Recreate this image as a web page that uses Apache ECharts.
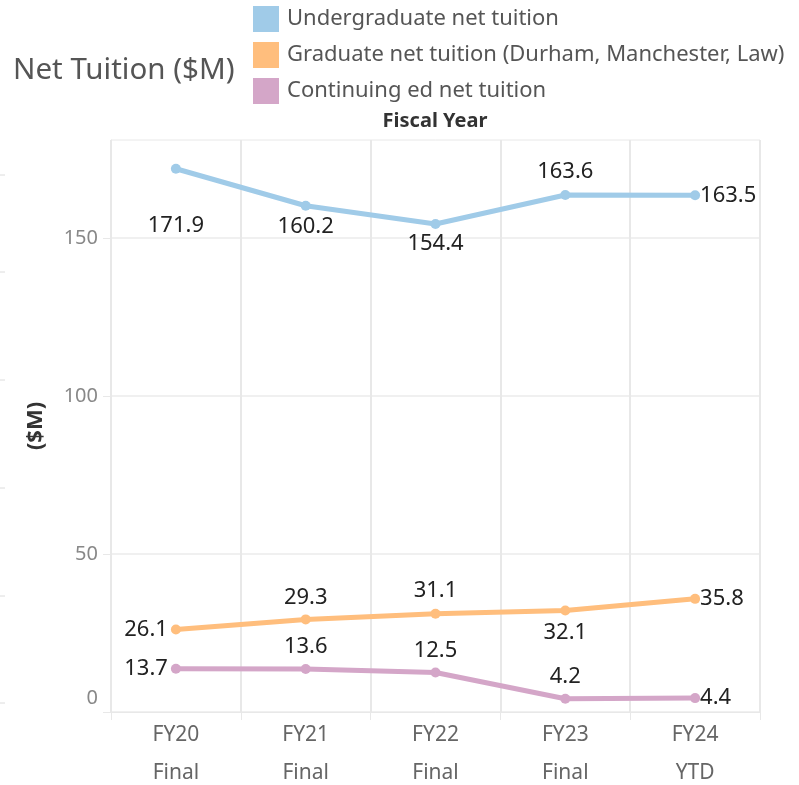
<!DOCTYPE html>
<html>
<head>
<meta charset="utf-8">
<script src="https://cdn.jsdelivr.net/npm/echarts@6/dist/echarts.min.js"></script>
<style>
html,body{margin:0;padding:0;background:#fff;}
#chart{width:799px;height:785px;}
</style>
</head>
<body>
<div id="chart"></div>
<script>
var categories = ['FY20\nFinal', 'FY21\nFinal', 'FY22\nFinal', 'FY23\nFinal', 'FY24\nYTD'];
var seriesNames = ['Undergraduate net tuition', 'Graduate net tuition (Durham, Manchester, Law)', 'Continuing ed net tuition'];
var undergrad = [171.9, 160.2, 154.4, 163.6, 163.5];
var graduate = [26.1, 29.3, 31.1, 32.1, 35.8];
var continuing = [13.7, 13.6, 12.5, 4.2, 4.4];
var yTicks = [0, 50, 100, 150];

var FONT = '"Noto Sans", sans-serif';
var colors = ['#a0cbe8', '#ffbe7d', '#d4a6c8'];

// label placements (style only)
function lab(kind, dy) {
  if (kind === 'right') return {position: 'right', distance: 0};
  if (kind === 'left') return {position: 'left', distance: 3};
  return {position: 'inside', offset: [0, dy]};
}
var placements = [
  [lab('c', 57), lab('c', 21), lab('c', 20), lab('c', -23), lab('right')],
  [lab('left'), lab('c', -22), lab('c', -23), lab('c', 22), lab('right')],
  [lab('left'), lab('c', -22), lab('c', -22), lab('c', -22), lab('right')]
];
var seriesData = [undergrad, graduate, continuing];

var chart = echarts.init(document.getElementById('chart'));
var gridGrey = '#e8e8e8';

var series = seriesData.map(function (arr, si) {
  return {
    name: seriesNames[si],
    type: 'line',
    data: arr.map(function (v, i) {
      return {value: v, label: placements[si][i]};
    }),
    symbol: 'circle',
    symbolSize: 10,
    lineStyle: {width: 5, color: colors[si]},
    itemStyle: {color: colors[si]},
    label: {
      show: true,
      fontFamily: FONT,
      fontSize: 22,
      color: '#222',
      formatter: function (p) { return p.value.toFixed(1); }
    },
    emphasis: {disabled: true},
    animation: false,
    z: 3
  };
});

var leftMarks = [175, 272, 380, 488, 596, 703].map(function (y) {
  return {type: 'line', shape: {x1: 0, y1: y, x2: 5, y2: y}, style: {stroke: '#dcdcdc', lineWidth: 1}};
});

chart.setOption({
  animation: false,
  backgroundColor: '#fff',
  color: colors,
  title: [
    {text: 'Net Tuition ($M)', left: 13, top: 56, padding: 0,
     textStyle: {fontFamily: FONT, fontSize: 29.5, fontWeight: 'normal', color: '#555'}},
    {text: 'Fiscal Year', left: 435, top: 111, padding: 0, textAlign: 'center',
     textStyle: {fontFamily: FONT, fontSize: 20, fontWeight: 'bold', color: '#333'}}
  ],
  legend: {
    orient: 'vertical',
    left: 253,
    top: 6,
    padding: 0,
    itemWidth: 26,
    itemHeight: 26,
    itemGap: 10,
    icon: 'rect',
    selectedMode: false,
    textStyle: {fontFamily: FONT, fontSize: 22, color: '#555', padding: [0, 0, 0, 3]},
    data: seriesNames
  },
  grid: {
    left: 111, right: 39, top: 140, bottom: 73,
    outerBoundsMode: 'none',
    containLabel: false,
    show: true, borderColor: gridGrey, borderWidth: 1
  },
  xAxis: {
    type: 'category',
    data: categories,
    boundaryGap: true,
    axisLine: {show: true, lineStyle: {color: gridGrey}},
    axisTick: {show: true, length: 8, lineStyle: {color: gridGrey}},
    splitLine: {show: true, lineStyle: {color: gridGrey, width: 2}},
    axisLabel: {fontFamily: FONT, fontSize: 21, color: '#666', lineHeight: 38, margin: 4}
  },
  yAxis: {
    type: 'value',
    min: 0,
    max: 181,
    interval: 50,
    name: '($M)',
    nameLocation: 'middle',
    nameRotate: 90,
    nameGap: 64,
    nameTextStyle: {fontFamily: FONT, fontSize: 22, fontWeight: 'bold', color: '#333'},
    axisLine: {show: true, lineStyle: {color: gridGrey}},
    axisTick: {show: true, length: 8, lineStyle: {color: gridGrey}, customValues: yTicks},
    splitLine: {show: true, lineStyle: {color: '#f0f0f0', width: 2}},
    axisLabel: {
      customValues: yTicks,
      fontFamily: FONT, fontSize: 20, color: '#888', margin: 13,
      formatter: function (v) { return v === 0 ? '{z|0}' : String(v); },
      rich: {z: {fontFamily: FONT, fontSize: 20, color: '#888', padding: [0, 0, 28, 0]}}
    }
  },
  graphic: leftMarks,
  series: series
});
</script>
</body>
</html>
